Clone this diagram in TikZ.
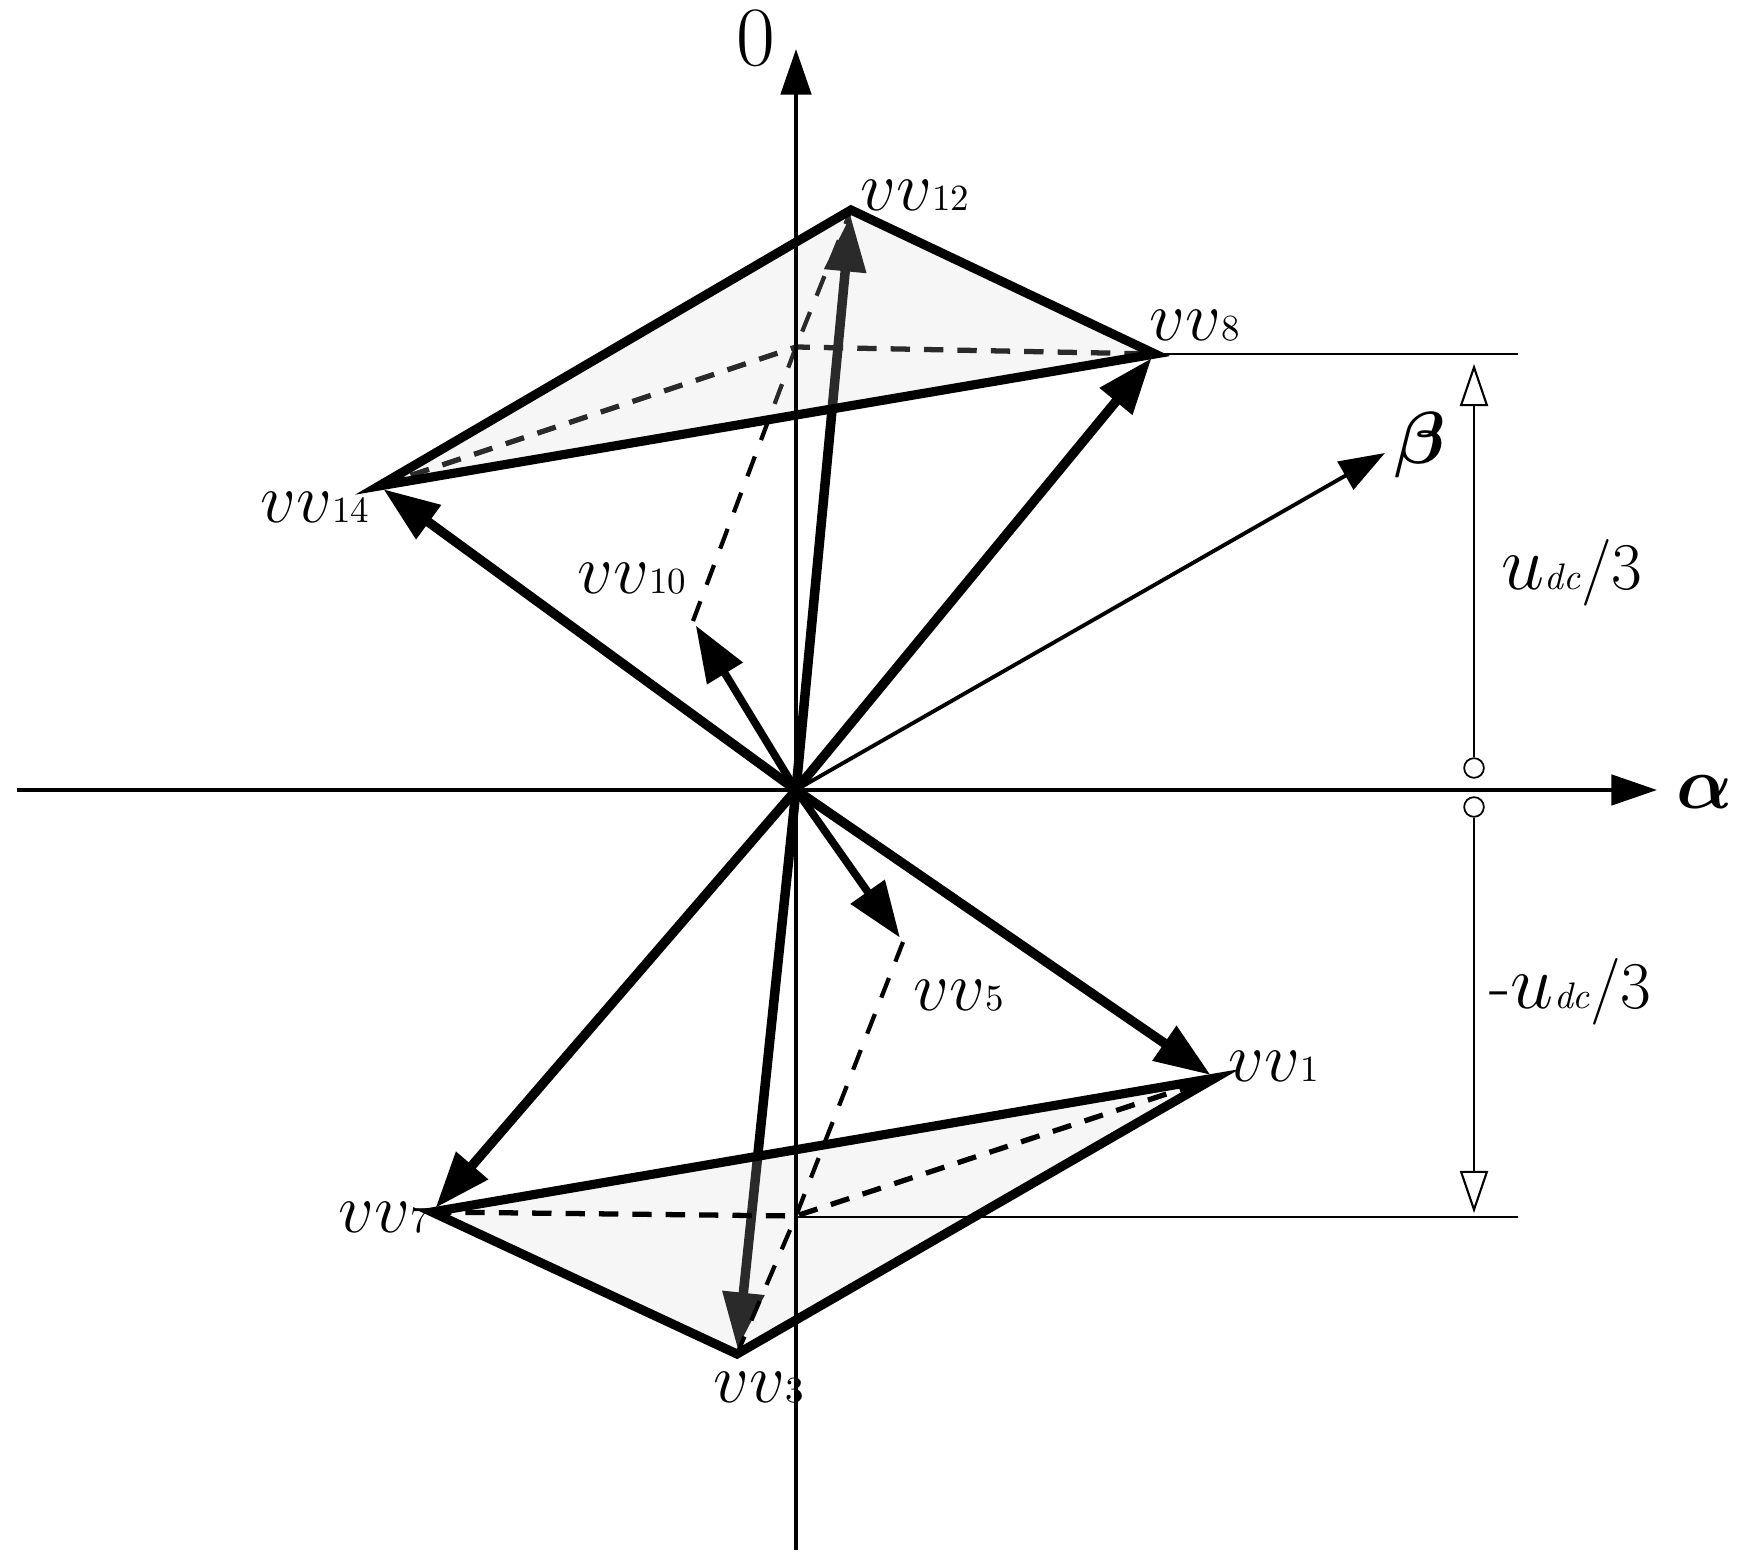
\documentclass[tikz,border=0pt]{standalone}
\usepackage{fix-cm}
\usepackage{bm}
\usetikzlibrary{arrows.meta}
\definecolor{faceGray}{gray}{0.83}
\newcommand{\vvname}[1]{\fontsize{20}{20}\selectfont$vv$\fontsize{10.5}{10.5}\selectfont #1}
\newcommand{\udcname}[1]{\fontsize{20}{20}\selectfont #1\fontsize{22}{22}\selectfont$u$\fontsize{10.5}{10.5}\selectfont\textit{dc}\fontsize{19}{19}\selectfont/3}
\tikzset{
    axis/.style={line width=1.25pt,-{Triangle[length=13pt,width=8.6pt]}},
    thick vec/.style={line width=2.7pt,shorten >=1.5pt,-{Triangle[length=16pt,width=11.4pt]}},
    mid vec/.style={thick vec,line width=2.2pt},
    hull/.style={line width=2.6pt,miter limit=10},
    face/.style={fill=faceGray,opacity=.2},
    hidden/.style={line width=1.5pt,dash pattern=on 5.5pt off 4pt},
    hidden thin/.style={line width=1.2pt,dash pattern=on 6pt off 5pt},
    rim/.style={line width=.5pt},
    span/.style={line width=.6pt,-{Triangle[open,length=12pt,width=8pt]}},
    dot/.style={draw,circle,line width=.5pt,inner sep=0pt,minimum size=5.6pt},
    vvlab/.style={inner sep=0pt,anchor=base west},
    big/.style={inner sep=0pt,font=\fontsize{24}{24}\selectfont},
    greek/.style={inner sep=0pt,font=\fontsize{21}{21}\selectfont},
    udclab/.style={inner sep=0pt,anchor=base west}
}
\begin{document}
\begin{tikzpicture}
    \useasboundingbox (0,0) rectangle (17.49,15.67);
    \coordinate (O) at (7.96,7.77);
    \coordinate (vv12) at (8.51,13.57);
    \coordinate (vv8) at (11.55,12.13);
    \coordinate (vv14) at (3.79,10.81);
    \coordinate (vv10) at (6.93,9.46);
    \coordinate (vv5) at (9.03,6.25);
    \coordinate (vv1) at (12.15,4.89);
    \coordinate (vv7) at (4.32,3.55);
    \coordinate (vv3) at (7.37,2.13);
    \coordinate (up) at (7.96,12.20);
    \coordinate (dn) at (7.96,3.51);
    \coordinate (west) at (0.17,7.77);
    \coordinate (east) at (16.57,7.77);
    \coordinate (north) at (7.96,15.18);
    \coordinate (south) at (7.96,0.17);
    \coordinate (beta) at (13.85,11.14);
    \coordinate (rimT) at (15.18,12.13);
    \coordinate (rimB) at (15.18,3.50);
    \coordinate (rimC) at (7.96,3.50);
    \coordinate (tipT) at (14.74,12.03);
    \coordinate (tipB) at (14.74,3.54);

    % Under the shaded faces
    \draw[hidden] (vv14) -- (up) -- (vv8);
    \draw[hidden thin] (vv10) -- (up) -- (vv12);
    \draw[thick vec] (O) -- (vv12);
    \draw[thick vec] (O) -- (vv3);
    \path[face] (vv14) -- (vv12) -- (vv8) -- cycle;
    \path[face] (vv7) -- (vv1) -- (vv3) -- cycle;

    % Axes
    \draw[axis] (west) -- (east);
    \draw[axis] (south) -- (north);
    \draw[rim] (vv8) -- (rimT);
    \draw[rim] (rimC) -- (rimB);

    % Lower dashes
    \draw[hidden] (vv7) -- (dn) -- (vv1);
    \draw[hidden thin] (vv5) -- (dn) -- (vv3);

    % Faces
    \draw[hull] (vv14) -- (vv12) -- (vv8) -- cycle;
    \draw[hull] (vv7) -- (vv1) -- (vv3) -- cycle;

    % Vectors
    \draw[thick vec] (O) -- (vv14);
    \draw[thick vec] (O) -- (vv8);
    \draw[thick vec] (O) -- (vv1);
    \draw[thick vec] (O) -- (vv7);
    \draw[mid vec] (O) -- (vv10);
    \draw[mid vec] (O) -- (vv5);
    \draw[line width=1.1pt,-{Triangle[length=13pt,width=9pt]}] (O) -- (beta);

    % Spans
    \node[dot] (dotT) at (14.74,7.99) {};
    \node[dot] (dotB) at (14.74,7.60) {};
    \draw[span] (dotT) -- (tipT);
    \draw[span] (dotB) -- (tipB);

    % Labels
    \node[vvlab] (l12) at (8.60,13.56) {\vvname{12}};
    \node[vvlab] (l8) at (11.49,12.26) {\vvname{8}};
    \node[vvlab] (l14) at (2.60,10.44) {\vvname{14}};
    \node[vvlab] (l10) at (5.77,9.73) {\vvname{10}};
    \node[vvlab] (l5) at (9.13,5.56) {\vvname{5}};
    \node[vvlab] (l1) at (12.28,4.85) {\vvname{1}};
    \node[vvlab] (l7) at (3.38,3.34) {\vvname{7}};
    \node[vvlab] (l3) at (7.13,1.65) {\vvname{3}};
    \node[big] (lzero) at (7.56,15.29) {0};
    \node[greek] (lalpha) at (17.05,7.75) {$\bm{\alpha}$};
    \node[greek] (lbeta) at (14.20,11.22) {$\bm{\beta}$};
    \node[udclab] (lup) at (15.01,9.77) {\udcname{}};
    \node[udclab] (ldn) at (14.89,5.58) {\udcname{-}};
\end{tikzpicture}
\end{document}
